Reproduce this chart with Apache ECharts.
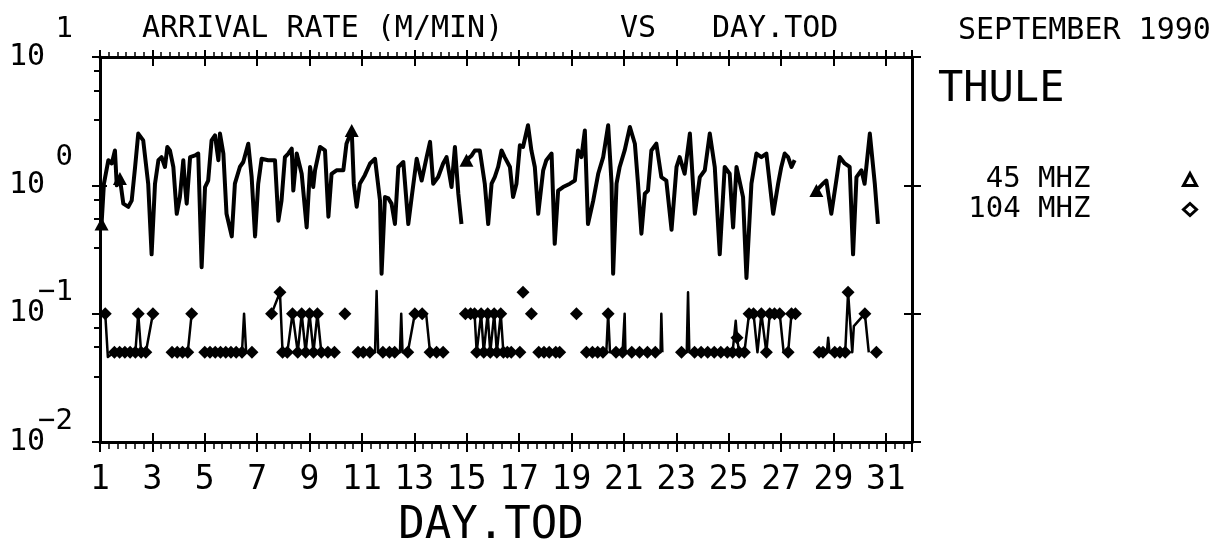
<!DOCTYPE html>
<html><head><meta charset="utf-8">
<script src="https://cdn.jsdelivr.net/npm/echarts@6/dist/echarts.min.js"></script>
<style>html,body{margin:0;padding:0;background:#fff}#c{width:1223px;height:540px}</style>
</head><body><div id="c"></div>
<script>
// 45 MHz arrival rate (m/min) vs day (null = data gap)
const days45 = [1.06,1.15,1.32,1.45,1.57,1.64,1.76,1.89,2.08,2.21,2.34,2.46,2.65,2.84,2.97,3.10,3.23,3.35,3.48,3.57,3.67,3.80,3.93,4.05,4.18,4.24,4.31,4.44,4.63,4.75,4.88,5.01,5.13,5.26,5.39,5.52,5.58,5.71,5.83,6.03,6.15,6.34,6.47,6.66,6.79,6.92,7.04,7.17,7.42,7.68,7.81,7.93,8.06,8.19,8.32,8.38,8.51,8.70,8.89,9.02,9.14,9.21,9.40,9.59,9.72,9.84,10.03,10.29,10.41,10.61,10.69,10.80,10.92,11.11,11.31,11.50,11.69,11.75,11.88,12.01,12.13,12.26,12.39,12.58,12.77,12.90,13.09,13.28,13.47,13.60,13.72,13.91,14.10,14.23,14.42,14.55,14.68,14.80,14.90,
14.99,15.19,15.31,15.50,15.69,15.82,15.95,16.07,16.20,16.33,16.45,16.65,16.77,16.90,17.03,17.15,17.34,17.47,17.60,17.73,17.92,18.04,18.24,18.36,18.49,18.68,18.94,19.13,19.25,19.38,19.51,19.63,19.83,20.02,20.21,20.40,20.53,20.59,20.72,20.84,21.03,21.23,21.42,21.54,21.67,21.80,21.92,22.05,22.24,22.43,22.62,22.82,23.01,23.13,23.32,23.52,23.71,23.90,24.09,24.28,24.47,24.66,24.85,25.04,25.17,25.30,25.55,25.68,25.87,26.06,26.25,26.44,26.70,26.89,27.01,27.14,27.27,27.40,27.52,28.00,
28.35,28.60,28.73,28.92,29.11,29.24,29.43,29.62,29.75,29.88,30.07,30.19,30.39,30.58,30.70];
const vals45 = [0.50,1.03,1.57,1.48,1.87,1.0,1.13,0.72,0.68,0.76,1.39,2.53,2.24,1.03,0.29,1.03,1.57,1.66,1.39,1.99,1.87,1.39,0.60,0.81,1.57,1.03,0.72,1.66,1.71,1.77,0.23,0.97,1.09,2.24,2.45,1.57,2.53,1.77,0.60,0.40,1.03,1.39,1.52,2.11,1.16,0.40,1.03,1.61,1.57,1.57,0.53,0.76,1.66,1.77,1.93,0.91,1.77,1.23,0.47,1.39,0.97,1.31,1.99,1.87,0.57,1.23,1.31,1.31,2.11,2.68,1.03,0.68,1.03,1.20,1.48,1.61,0.76,0.205,0.81,0.79,0.72,0.50,1.39,1.52,0.50,0.81,1.61,1.09,1.66,2.18,1.03,1.16,1.48,1.66,0.97,1.99,0.86,0.50,null,
1.57,1.71,1.87,1.87,1.03,0.50,1.03,1.16,1.39,1.87,1.66,1.39,0.81,1.03,2.05,1.99,2.94,1.87,1.39,0.60,1.31,1.57,1.77,0.35,0.91,0.97,1.03,1.09,1.87,1.66,2.68,0.50,0.76,1.23,1.66,2.94,1.03,0.205,1.03,1.39,1.87,2.85,2.11,1.03,0.42,0.86,0.91,1.87,2.11,1.16,1.09,0.45,1.39,1.66,1.23,2.53,0.60,1.16,1.31,2.53,1.39,0.29,1.39,1.23,0.47,1.39,0.81,0.19,1.03,1.77,1.66,1.77,0.60,1.03,1.39,1.77,1.66,1.39,1.57,null,
0.91,1.03,1.09,0.60,1.09,1.66,1.48,1.39,0.29,1.16,1.31,1.03,2.53,1.03,0.50];
// days where the 45 MHz pen drew its triangle marker
const tri45 = [1.06,1.76,10.61,14.99,28.35];

// 104 MHz arrival rate (m/min) vs day (null = data gap)
const days104 = [1.2,1.3,1.55,1.75,1.95,2.15,2.35,2.46,2.57,2.75,3.02,3.4,
3.75,3.95,4.15,4.35,4.5,4.8,
5.0,5.2,5.4,5.6,5.8,6.0,6.2,6.42,6.5,6.58,6.8,7.2,
7.55,7.87,7.97,8.15,8.35,8.55,8.7,8.85,9.0,9.15,9.3,9.45,9.7,9.95,10.2,
10.35,10.6,
10.85,11.05,11.3,11.5,11.56,11.62,11.8,12.05,12.25,12.45,12.5,12.55,12.75,13.02,13.3,13.45,13.6,13.85,14.1,14.2,14.6,
14.95,15.15,15.3,15.38,15.55,15.65,15.8,15.9,16.05,16.15,16.3,16.4,16.55,16.7,16.9,
17.03,17.09,17.15,17.3,17.47,17.6,
17.75,17.95,18.15,18.4,18.55,18.9,
19.19,19.4,
19.57,19.8,20.0,20.2,20.33,20.4,20.47,20.7,20.95,21.0,21.03,21.06,21.3,21.6,21.9,22.2,22.4,22.43,22.47,22.8,
23.2,23.4,23.45,23.5,23.7,23.95,24.2,24.45,24.7,24.95,25.15,25.22,25.27,25.32,25.4,25.6,25.78,25.95,26.1,26.25,26.44,26.57,26.75,26.95,27.1,27.27,27.4,27.55,28.0,
28.45,28.6,28.75,28.8,28.85,29.05,29.25,29.45,29.56,29.72,29.78,30.2,30.35,30.5,
30.64];
const vals104 = [0.1,0.046,0.05,0.05,0.05,0.05,0.05,0.1,0.05,0.05,0.1,null,
0.05,0.05,0.05,0.05,0.1,null,
0.05,0.05,0.05,0.05,0.05,0.05,0.05,0.05,0.1,0.05,0.05,null,
0.1,0.147,0.05,0.05,0.1,0.05,0.1,0.05,0.1,0.05,0.1,0.05,0.05,0.05,null,
0.1,null,
0.05,0.05,0.05,0.05,0.15,0.05,0.05,0.05,0.05,0.05,0.1,0.05,0.05,0.1,0.1,0.1,0.05,0.05,0.05,0.05,null,
0.1,0.1,0.1,0.05,0.1,0.05,0.1,0.05,0.1,0.05,0.1,0.05,0.05,0.05,null,
0.05,null,0.147,null,0.1,null,
0.05,0.05,0.05,0.05,0.05,null,
0.1,null,
0.05,0.05,0.05,0.05,0.05,0.1,0.05,0.05,0.05,0.05,0.1,0.05,0.05,0.05,0.05,0.05,0.05,0.1,0.05,null,
0.05,0.05,0.147,0.05,0.05,0.05,0.05,0.05,0.05,0.05,0.05,0.05,0.088,0.065,0.05,0.05,0.1,0.1,0.05,0.1,0.05,0.1,0.1,0.1,0.05,0.05,0.1,0.1,null,
0.05,0.05,0.05,0.065,0.05,0.05,0.05,0.05,0.147,0.05,0.08,0.1,0.05,null,
0.05];
// 104 MHz points drawn without a diamond (thin pen strokes)
const bare104 = [1.3,6.5,6.58,11.5,11.56,11.62,12.45,12.5,12.55,13.45,14.2,20.33,20.47,21.0,21.03,21.06,22.4,22.43,22.47,23.4,23.45,23.5,25.22,25.27,26.1,27.1,28.75,28.8,28.85,29.72,29.78,30.35];

const seriesNames = ['45 MHZ', '104 MHZ'];
const titleTexts = ['ARRIVAL RATE (M/MIN)', 'VS', 'DAY.TOD', 'SEPTEMBER 1990', 'THULE'];

const F = "'DejaVu Sans Mono', monospace";
const BLACK = '#000';
function pts(d, v) { return d.map((x, i) => [x, v[i] == null ? '-' : v[i]]); }
function expLabel(v) {
  const e = Math.round(Math.log10(v));
  return e < 0 ? '{n|\u2212' + (-e) + '}' : '{p|' + e + '}';
}

const chart = echarts.init(document.getElementById('c'), null, {renderer: 'canvas'});
const xBase = {type: 'value', min: 1, max: 32, interval: 2, splitLine: {show: false}};
const yBase = {type: 'log', logBase: 10, min: 0.01, max: 10, splitLine: {show: false}};
const tickStyle = {color: BLACK, width: 2};
const ts = (size, extra) => Object.assign({fontFamily: F, fontSize: size, fontWeight: 'normal', color: BLACK}, extra || {});

const option = {
  animation: false,
  backgroundColor: '#fff',
  title: [
    {text: titleTexts[0], left: 137, top: 9, textStyle: ts(30)},
    {text: titleTexts[1], left: 615, top: 9, textStyle: ts(30)},
    {text: titleTexts[2], left: 707, top: 9, textStyle: ts(30)},
    {text: titleTexts[3], left: 953, top: 11, textStyle: ts(30)},
    {text: titleTexts[4], left: 933, top: 64, textStyle: ts(42)}
  ],
  legend: {
    orient: 'vertical', right: 20, top: 160, align: 'right', selectedMode: false,
    itemWidth: 13, itemHeight: 12, itemGap: 1,
    data: [{name: seriesNames[0], icon: 'triangle'}, {name: seriesNames[1], icon: 'diamond'}],
    itemStyle: {color: '#fff', borderColor: BLACK, borderWidth: 3},
    textStyle: ts(29, {padding: [0, 88, 0, 0]})
  },
  grid: {left: 100, right: 311, top: 57, bottom: 98, containLabel: false, outerBoundsMode: 'none'},
  xAxis: [
    Object.assign({}, xBase, {position: 'bottom',
      axisLine: {lineStyle: {color: BLACK, width: 3}},
      axisTick: {length: 10, lineStyle: tickStyle},
      minorTick: {show: true, splitNumber: 6, length: 7, lineStyle: {color: BLACK, width: 1.5}},
      axisLabel: Object.assign(ts(33), {margin: 22, formatter: v => (v <= 31 ? String(v) : '')}),
      name: 'DAY.TOD', nameLocation: 'middle', nameGap: 63, nameMoveOverlap: false,
      nameTextStyle: ts(44, {padding: [0, 30, 0, 0]})}),
    Object.assign({}, xBase, {position: 'bottom', axisLine: {show: false},
      axisTick: {inside: true, length: 9, lineStyle: tickStyle}, axisLabel: {show: false}}),
    Object.assign({}, xBase, {position: 'top',
      axisLine: {lineStyle: {color: BLACK, width: 3}},
      axisTick: {length: 7, lineStyle: tickStyle},
      minorTick: {show: true, splitNumber: 6, length: 5, lineStyle: {color: BLACK, width: 1.5}},
      axisLabel: {show: false}}),
    Object.assign({}, xBase, {position: 'top', axisLine: {show: false},
      axisTick: {inside: true, length: 9, lineStyle: tickStyle}, axisLabel: {show: false}})
  ],
  yAxis: [
    Object.assign({}, yBase, {position: 'left',
      axisLine: {lineStyle: {color: BLACK, width: 3}},
      axisTick: {length: 8, lineStyle: tickStyle},
      minorTick: {show: true, splitNumber: 4, length: 6, lineStyle: {color: BLACK, width: 2}},
      axisLabel: Object.assign(ts(30), {margin: 55, formatter: () => '10'})}),
    Object.assign({}, yBase, {position: 'left', axisLine: {show: false},
      axisTick: {inside: true, length: 7, lineStyle: tickStyle},
      axisLabel: {margin: 27, formatter: expLabel,
        rich: {p: ts(29, {padding: [0, 0, 56, 0]}), n: ts(29, {padding: [0, 0, 42, 0]})}}}),
    Object.assign({}, yBase, {position: 'right',
      axisLine: {lineStyle: {color: BLACK, width: 3}},
      axisTick: {length: 9, lineStyle: tickStyle}, axisLabel: {show: false}}),
    Object.assign({}, yBase, {position: 'right', axisLine: {show: false},
      axisTick: {inside: true, length: 8, lineStyle: tickStyle}, axisLabel: {show: false}})
  ],
  series: [
    {name: seriesNames[0], type: 'line', xAxisIndex: 0, yAxisIndex: 0,
      data: pts(days45, vals45), connectNulls: false,
      symbol: (v) => (tri45.indexOf(v[0]) >= 0 ? 'triangle' : 'none'),
      symbolSize: [14, 13], showSymbol: true,
      itemStyle: {color: BLACK}, lineStyle: {color: BLACK, width: 4, join: 'round'}},
    {name: seriesNames[1], type: 'line', xAxisIndex: 0, yAxisIndex: 0,
      data: pts(days104, vals104), connectNulls: false,
      symbol: (v) => (bare104.indexOf(v[0]) >= 0 ? 'none' : 'diamond'),
      symbolSize: [13, 13], showSymbol: true,
      itemStyle: {color: BLACK}, lineStyle: {color: BLACK, width: 2.5, join: 'round'}}
  ]
};
chart.setOption(option);
</script></body></html>
